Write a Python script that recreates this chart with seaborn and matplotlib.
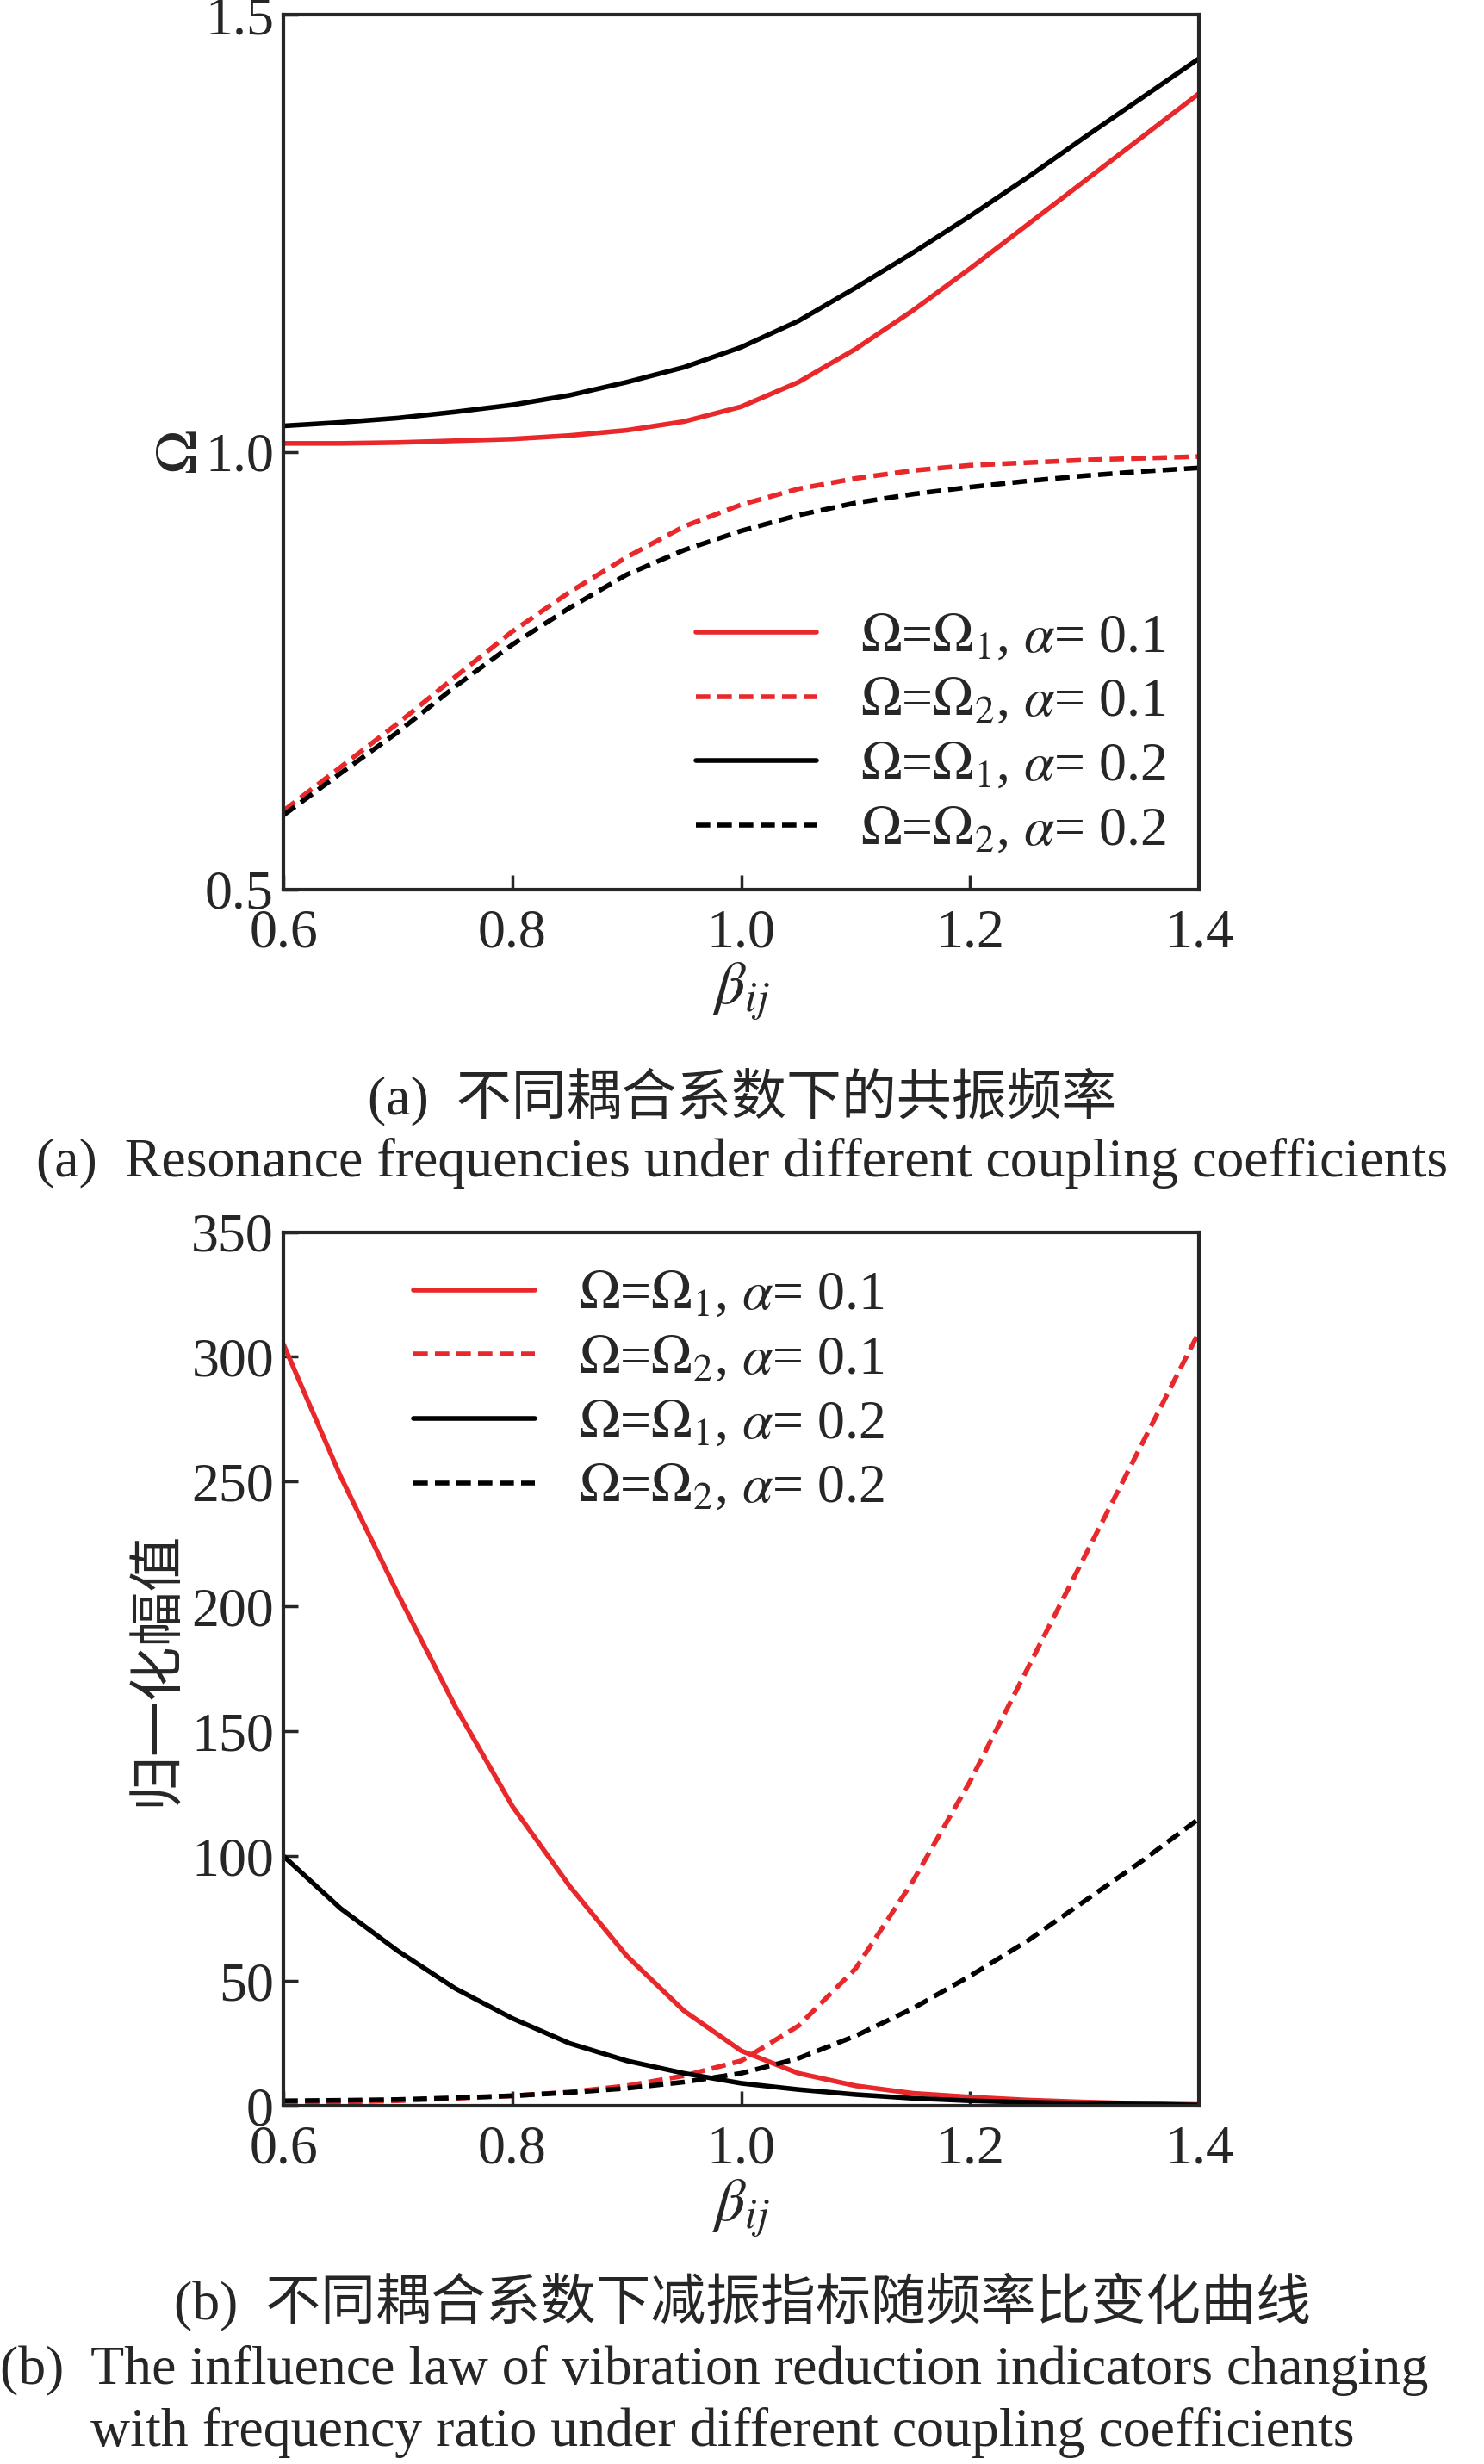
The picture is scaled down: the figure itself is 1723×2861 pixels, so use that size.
import numpy as np
import pandas as pd
import matplotlib
matplotlib.use("Agg")
import matplotlib.pyplot as plt
import seaborn as sns

sns.set_style("ticks")
plt.rcParams['font.family'] = ['Liberation Serif', 'Noto Sans CJK SC', 'DejaVu Sans']
plt.rcParams['mathtext.fontset'] = 'stix'

beta = [0.6, 0.65, 0.7, 0.75, 0.8, 0.85, 0.9, 0.95, 1.0,
        1.05, 1.1, 1.15, 1.2, 1.25, 1.3, 1.35, 1.4]

# (a) 共振频率
om1_a01 = [1.010, 1.010, 1.011, 1.013, 1.015, 1.019, 1.025, 1.035, 1.052,
           1.080, 1.118, 1.162, 1.210, 1.260, 1.310, 1.360, 1.410]
om2_a01 = [0.590, 0.640, 0.690, 0.743, 0.795, 0.840, 0.880, 0.915, 0.940,
           0.958, 0.970, 0.979, 0.985, 0.988, 0.991, 0.993, 0.995]
om1_a02 = [1.030, 1.034, 1.039, 1.046, 1.054, 1.065, 1.080, 1.097, 1.120,
           1.150, 1.188, 1.228, 1.270, 1.314, 1.360, 1.405, 1.450]
om2_a02 = [0.585, 0.633, 0.680, 0.732, 0.780, 0.822, 0.860, 0.888, 0.910,
           0.928, 0.942, 0.952, 0.960, 0.967, 0.973, 0.978, 0.982]

# (b) 归一化幅值
amp1_a01 = [305, 252, 205, 160, 120, 88, 60, 38, 22, 13, 8, 5, 3.5, 2.3, 1.5, 0.9, 0.5]
amp2_a01 = [1, 1.5, 2, 3, 4, 5.5, 8, 12, 18, 32, 55, 90, 130, 175, 220, 265, 310]
amp1_a02 = [100, 79, 62, 47, 35, 25, 18, 13, 9, 6.5, 4.5, 3, 2, 1.4, 1, 0.6, 0.3]
amp2_a02 = [2, 2.2, 2.5, 3.2, 4, 5.3, 7, 9.5, 13, 19, 28, 39, 52, 66, 82, 98, 115]

O = r'\mathit{\Omega}'
labels = [rf'${O}$=${O}_1$, $\alpha$= 0.1', rf'${O}$=${O}_2$, $\alpha$= 0.1',
          rf'${O}$=${O}_1$, $\alpha$= 0.2', rf'${O}$=${O}_2$, $\alpha$= 0.2']
colors = ['#e8282b', '#e8282b', 'black', 'black']
styles = ['-', (0, (3, 1.5)), '-', (0, (3, 1.5))]

fs = 46
fig = plt.figure(figsize=(17.23, 28.61), dpi=100)
ax1 = fig.add_axes([0.191, 0.639, 0.617, 0.355])
ax2 = fig.add_axes([0.191, 0.1454, 0.617, 0.3546])


def draw(ax, series):
    for ys, lab, c, ls in zip(series, labels, colors, styles):
        df = pd.DataFrame({'beta': beta, 'y': ys})
        sns.lineplot(data=df, x='beta', y='y', ax=ax, color=c, lw=4, label=lab)
        ax.lines[-1].set_linestyle(ls)
    ax.set_xlim(0.6, 1.4)
    ax.set_xticks([0.6, 0.8, 1.0, 1.2, 1.4])
    ax.tick_params(direction='in', labelsize=fs, length=12, width=2.5)
    ax.tick_params(axis='x', pad=16)
    ax.tick_params(axis='y', pad=8)
    for s in ax.spines.values():
        s.set_linewidth(3)
    ax.set_xlabel(r'$\beta_{ij}$', fontsize=fs + 4, labelpad=2)


draw(ax1, [om1_a01, om2_a01, om1_a02, om2_a02])
ax1.set_ylim(0.5, 1.5)
ax1.set_yticks([0.5, 1.0, 1.5])
ax1.set_ylabel(rf'${O}$', fontsize=fs + 4, labelpad=-4)
ax1.legend(loc='lower right', frameon=False, fontsize=fs, handlelength=2.2,
           labelspacing=0.25, borderaxespad=0.2)

draw(ax2, [amp1_a01, amp2_a01, amp1_a02, amp2_a02])
ax2.set_ylim(0, 350)
ax2.set_yticks(range(0, 351, 50))
ax2.set_ylabel('归一化幅值', fontsize=fs, labelpad=6)
ax2.legend(loc='upper left', frameon=False, fontsize=fs, handlelength=2.2,
           labelspacing=0.25, borderaxespad=0.3, bbox_to_anchor=(0.1, 1.0))

fig.text(0.5, 0.555, '(a)  不同耦合系数下的共振频率', ha='center', va='center', fontsize=fs)
fig.text(0.5, 0.528, '(a)  Resonance frequencies under different coupling coefficients',
         ha='center', va='center', fontsize=fs)
fig.text(0.5, 0.066, '(b)  不同耦合系数下减振指标随频率比变化曲线', ha='center', va='center', fontsize=fs)
fig.text(0.0, 0.038, '(b)  The influence law of vibration reduction indicators changing',
         ha='left', va='center', fontsize=fs)
fig.text(0.061, 0.0128, 'with frequency ratio under different coupling coefficients',
         ha='left', va='center', fontsize=fs)

fig.savefig('out.png', dpi=100)
